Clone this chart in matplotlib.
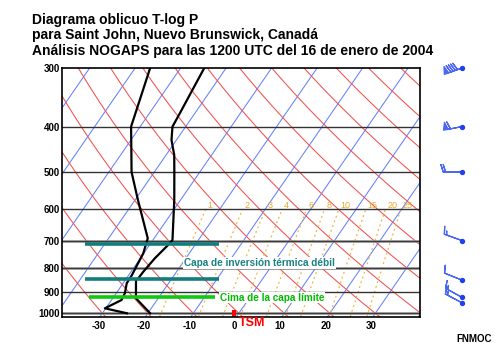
import numpy as np
import matplotlib
matplotlib.use("Agg")
import matplotlib.pyplot as plt
from matplotlib.ticker import FixedLocator, NullLocator, FixedFormatter

plt.rcParams['font.family'] = ['Liberation Sans', 'DejaVu Sans']

# ---- sounding (hPa, degC) ----
temp_p = [300, 375, 400, 427, 460, 500, 573, 698, 715, 763, 815, 842, 848, 929, 1000]
temp_c = [-44.8, -43.3, -42.9, -41.1, -38.2, -35.6, -31.4, -25.7, -25.9, -26.8,
          -27.3, -27.4, -27.7, -24.9, -19.5]
dewp_p = [300, 400, 500, 573, 692, 745, 829, 863, 906, 937, 976, 1000]
dewp_c = [-56.7, -52.0, -45.0, -39.4, -31.4, -30.1, -29.3, -29.2, -28.1, -27.8, -30.2, -24.6]

# winds: pressure, direction (deg), speed (kt)
wind_p = [300, 400, 500, 700, 850, 925, 950]
wind_dir = [250, 259, 270, 290, 292, 299, 298]
wind_kt = [90, 60, 20, 15, 10, 15, 15]

sst_c = -0.5  # sea-surface temperature

# diagram background
isotherms = list(range(-120, 50, 10))
dry_adiabats = list(range(-40, 170, 10))
mixing_ratios = [1, 2, 3, 4, 6, 8, 10, 15, 20, 25]

x_ticks = [-30, -20, -10, 0, 10, 20, 30]
p_levels = [300, 400, 500, 600, 700, 800, 900, 1000]

# annotated layers: (pressure, x-start, x-end)
inversion_bars = [(713, -33.0, -3.4), (846, -33.0, -3.4)]
pbl_bar = (923, -32.0, -4.3)

P_TOP, P_BOT = 300.0, 1016.0
SKEW, P_REF = 30.9, 1030.0
X_LEFT, X_RIGHT = -37.96, 40.73


def skew_x(t, p):
    return np.asarray(t) + SKEW * np.log(P_REF / np.asarray(p, dtype=float))


fig = plt.figure(figsize=(5, 3.5), dpi=100)
fig.patch.set_facecolor('white')
ax_pos = [62 / 500, 1 - 316.5 / 350, (420 - 62) / 500, (316.5 - 68) / 350]
ax = fig.add_axes(ax_pos)
ax.set_yscale('log')
ax.set_ylim(P_BOT, P_TOP)
ax.set_xlim(X_LEFT, X_RIGHT)

pp = np.geomspace(P_BOT, P_TOP, 120)

# isotherms
for t in isotherms:
    ax.plot(skew_x([t, t], [P_BOT, P_TOP]), [P_BOT, P_TOP], color='#6680ff', lw=0.75, zorder=1)

# dry adiabats
for th in dry_adiabats:
    tt = (th + 273.15) * (pp / 1000.0) ** 0.286 - 273.15
    ax.plot(skew_x(tt, pp), pp, color='#f25050', lw=0.75, zorder=1)

# saturation mixing-ratio lines (below 600 hPa)
pm = np.geomspace(P_BOT, 600, 40)
for w in mixing_ratios:
    e = w * pm / (622.0 + w)
    le = np.log(e / 6.112)
    tm = 243.5 * le / (17.67 - le)
    ax.plot(skew_x(tm, pm), pm, color='#f0b640', lw=0.9, ls=(0, (1.5, 2.5)), zorder=1)
    e6 = w * 600 / (622.0 + w)
    l6 = np.log(e6 / 6.112)
    t6 = 243.5 * l6 / (17.67 - l6)
    ax.text(skew_x(t6, 600) + 0.4, 589, str(w), color='#e4aa30', fontsize=6.5,
            ha='left', va='center', zorder=2)

# pressure levels
for p in p_levels[1:]:
    if p in (700, 800, 1000):
        ax.axhline(p, color='#808080', lw=1.8, zorder=2)
        ax.axhline(p, color='#3a3a3a', lw=0.7, zorder=2)
    else:
        ax.axhline(p, color='#333333', lw=1.0, zorder=2)

# sounding
ax.plot(skew_x(temp_c, temp_p), temp_p, color='black', lw=1.6, zorder=3)
ax.plot(skew_x(dewp_c, dewp_p), dewp_p, color='black', lw=1.6, zorder=3)

# layer annotations
for p, x1, x2 in inversion_bars:
    ax.plot([x1, x2], [p, p], color='#137d7d', lw=2.6, solid_capstyle='butt', zorder=4)
ax.plot([pbl_bar[1], pbl_bar[2]], [pbl_bar[0], pbl_bar[0]], color='#10c810', lw=2.6,
        solid_capstyle='butt', zorder=4)

ax.text(-11.1, 781, 'Capa de inversión térmica débil', color='#1a8080', fontsize=7.2,
        fontweight='bold', ha='left', va='center', zorder=5,
        bbox=dict(facecolor='white', edgecolor='none', pad=0.6))
ax.text(-3.3, 926, 'Cima de la capa límite', color='#00bb00', fontsize=7.2,
        fontweight='bold', ha='left', va='center', zorder=5,
        bbox=dict(facecolor='white', edgecolor='none', pad=0.6))

# SST marker
xs = float(skew_x(sst_c, P_BOT))
ax.plot([xs, xs], [P_BOT, 984], color='red', lw=3, solid_capstyle='butt', zorder=5,
        clip_on=False)

# axes styling
ax.yaxis.set_major_locator(FixedLocator(p_levels))
ax.yaxis.set_major_formatter(FixedFormatter([str(p) for p in p_levels]))
ax.yaxis.set_minor_locator(NullLocator())
ax.set_xticks(x_ticks)
ax.set_xticklabels([str(t) for t in x_ticks])
ax.tick_params(axis='both', length=0, labelsize=7)
ax.tick_params(axis='y', pad=1.5)
ax.tick_params(axis='x', pad=3.5)
for lab in ax.get_xticklabels() + ax.get_yticklabels():
    lab.set_fontweight('bold')
for s in ax.spines.values():
    s.set_linewidth(1.2)
    s.set_color('black')
    s.set_zorder(6)

fig.text(239.3 / 500, 1 - 323.5 / 350, 'TSM', color='red', fontsize=9, fontweight='bold',
         ha='left', va='center')

# title
titles = ['Diagrama oblicuo T-log P',
          'para Saint John, Nuevo Brunswick, Canadá',
          'Análisis NOGAPS para las 1200 UTC del 16 de enero de 2004']
for i, line in enumerate(titles):
    fig.text(32 / 500, 1 - (20 + 15.3 * i) / 350, line, fontsize=10, fontweight='bold',
             ha='left', va='center')

fig.text(456 / 500, 1 - 339.5 / 350, 'FNMOC', fontsize=7, fontweight='bold',
         ha='left', va='center')

# wind barbs
axw = fig.add_axes([425 / 500, ax_pos[1], 75 / 500, ax_pos[3]])
axw.set_yscale('log')
axw.set_ylim(P_BOT, P_TOP)
axw.set_xlim(0, 75)
axw.axis('off')
d = np.deg2rad(wind_dir)
u = -np.array(wind_kt) * np.sin(d)
v = -np.array(wind_kt) * np.cos(d)
bx = np.full(len(wind_p), 37.0)
axw.barbs(bx, wind_p, u, v, length=5.2, color='#4a66f2', linewidth=0.9, clip_on=False)
axw.scatter(bx, wind_p, s=8, color='#2040f0', zorder=3, clip_on=False)

fig.savefig('out.png', dpi=100, facecolor='white')
